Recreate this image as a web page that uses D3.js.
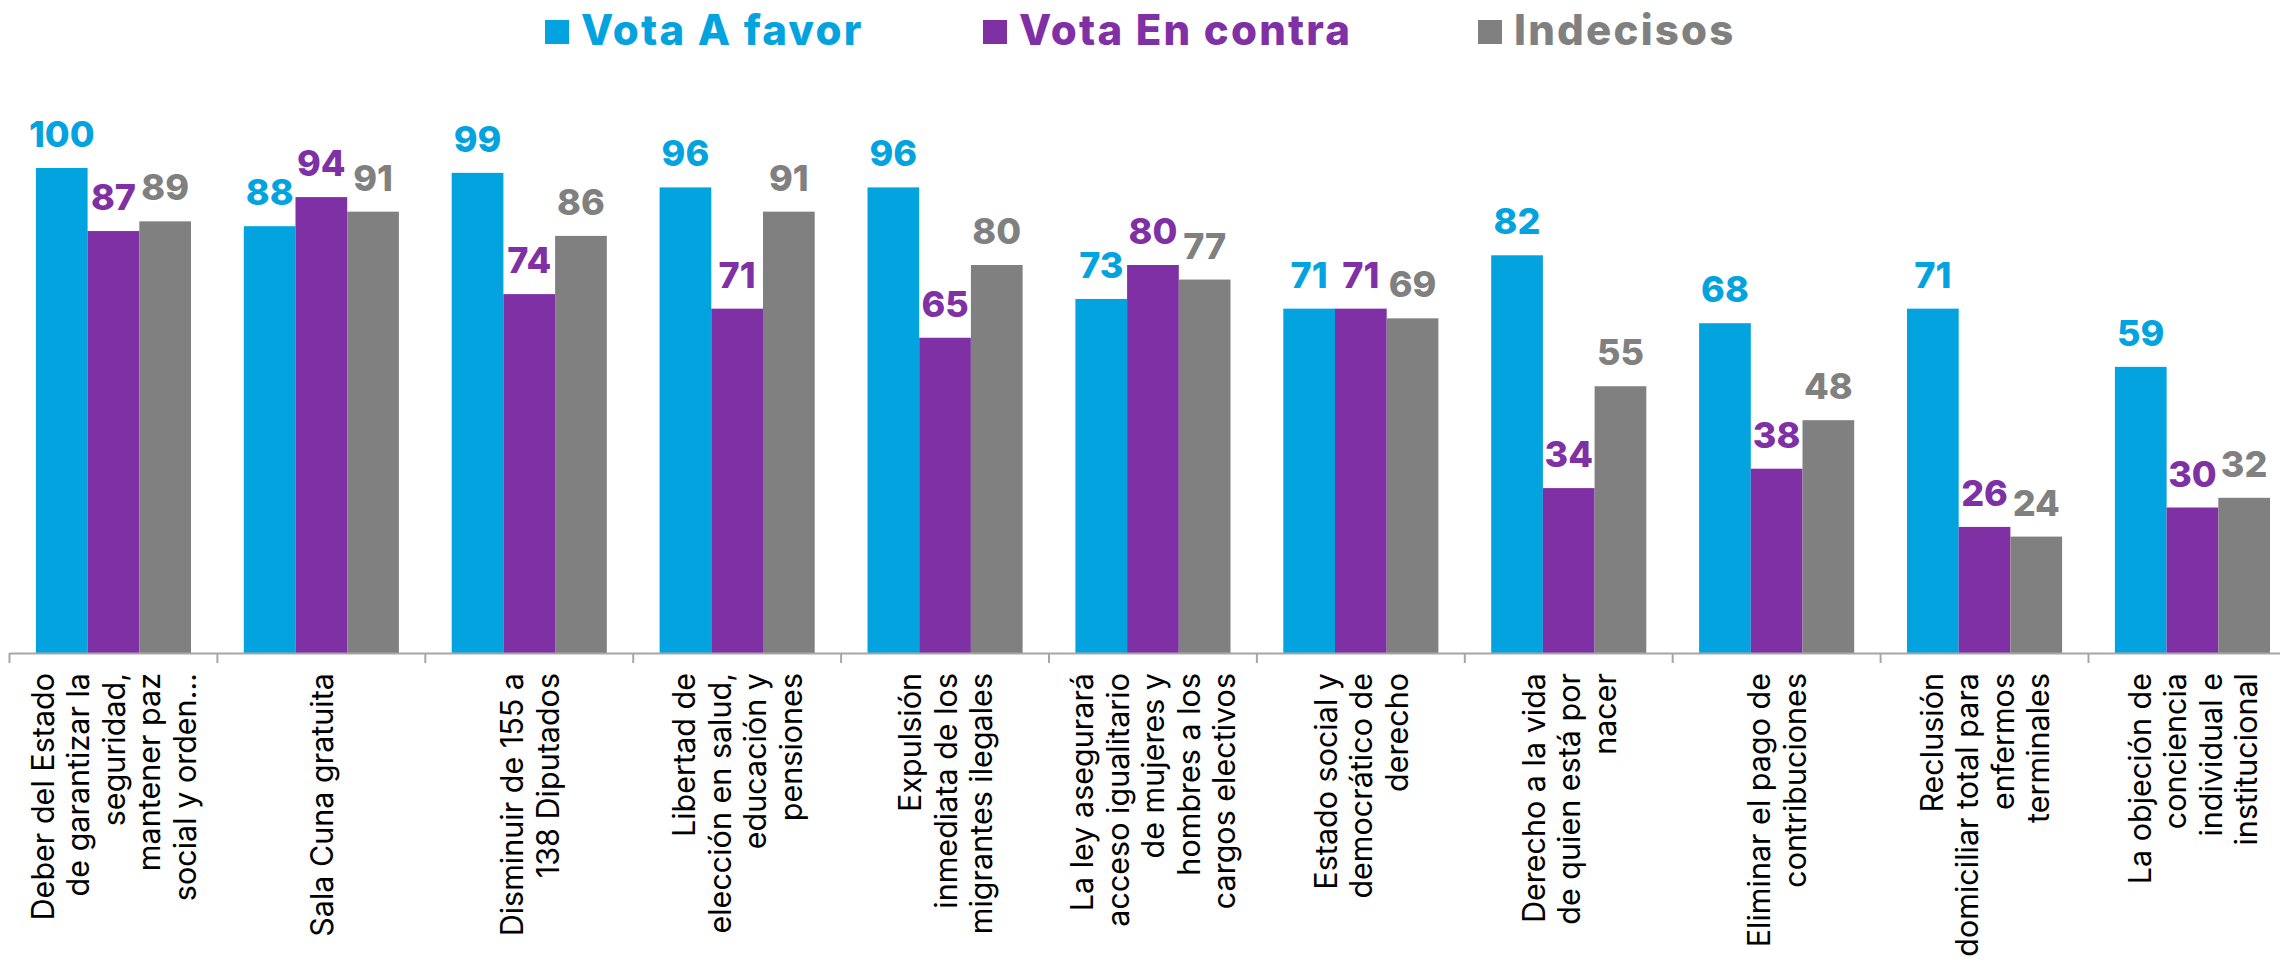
<!DOCTYPE html>
<html>
<head>
<meta charset="utf-8">
<script src="https://cdn.jsdelivr.net/npm/d3@7"></script>
<style>
  html, body { margin: 0; padding: 0; background: #fff; }
  svg { display: block; }
</style>
</head>
<body>
<svg id="chart"></svg>
<script>
  // ---------- data ----------
  const categories = [
    ['Deber del Estado', 'de garantizar la', 'seguridad,', 'mantener paz', 'social y orden…'],
    ['Sala Cuna gratuita'],
    ['Disminuir de 155 a', '138 Diputados'],
    ['Libertad de', 'elección en salud,', 'educación y', 'pensiones'],
    ['Expulsión', 'inmediata de los', 'migrantes ilegales'],
    ['La ley asegurará', 'acceso igualitario', 'de mujeres y', 'hombres a los', 'cargos electivos'],
    ['Estado social y', 'democrático de', 'derecho'],
    ['Derecho a la vida', 'de quien está por', 'nacer'],
    ['Eliminar el pago de', 'contribuciones'],
    ['Reclusión', 'domiciliar total para', 'enfermos', 'terminales'],
    ['La objeción de', 'conciencia', 'individual e', 'institucional']
  ];

  const seriesNames = ['Vota A favor', 'Vota En contra', 'Indecisos'];
  const seriesColors = ['#03A3E0', '#7F30A4', '#808080'];

  const aFavor   = [100, 88, 99, 96, 96, 73, 71, 82, 68, 71, 59];
  const enContra = [87, 94, 74, 71, 65, 80, 71, 34, 38, 26, 30];
  const indecisos = [89, 91, 86, 91, 80, 77, 69, 55, 48, 24, 32];

  const seriesValues = [aFavor, enContra, indecisos];

  // ---------- layout ----------
  const W = 2280, H = 968;
  const baseY = 653;
  const svg = d3.select('#chart').attr('width', W).attr('height', H);

  const keys = categories.map((c, i) => i);
  const x0 = d3.scaleBand().domain(keys).range([9.5, 9.5 + 11 * 207.9]).padding(0);
  const x1 = d3.scaleBand().domain(seriesNames)
    .range([26.4, x0.bandwidth() - 26.4]).padding(0);
  const y = d3.scaleLinear().domain([0, 100]).range([baseY, 168]);

  // ---------- bars ----------
  const groups = svg.append('g').selectAll('g')
    .data(keys)
    .join('g')
    .attr('transform', (d) => `translate(${x0(d)},0)`);

  groups.selectAll('rect')
    .data((d) => seriesNames.map((s, j) => ({ s, j, v: seriesValues[j][d] })))
    .join('rect')
    .attr('x', (d) => x1(d.s))
    .attr('y', (d) => y(d.v))
    .attr('width', x1.bandwidth())
    .attr('height', (d) => baseY - y(d.v))
    .attr('fill', (d) => seriesColors[d.j]);

  groups.selectAll('text.val')
    .data((d) => seriesNames.map((s, j) => ({ s, j, v: seriesValues[j][d] })))
    .join('text')
    .attr('class', 'val')
    .attr('x', (d) => x1(d.s) + x1.bandwidth() / 2)
    .attr('y', (d) => y(d.v) - 21)
    .attr('text-anchor', 'middle')
    .attr('fill', (d) => seriesColors[d.j])
    .attr('font-family', 'Inter, "Open Sans", sans-serif')
    .attr('font-weight', 800)
    .attr('font-size', 36)
    .text((d) => d.v);

  // ---------- axis ----------
  const axisG = svg.append('g');
  axisG.append('line')
    .attr('x1', x0.range()[0]).attr('x2', x0.range()[1])
    .attr('y1', baseY + 0.5).attr('y2', baseY + 0.5)
    .attr('stroke', '#a6a6a6')
    .attr('stroke-width', 2);

  const tickXs = keys.map((k) => x0(k)).concat([x0.range()[1]]);
  axisG.selectAll('line.tick')
    .data(tickXs)
    .join('line')
    .attr('class', 'tick')
    .attr('x1', (d) => d).attr('x2', (d) => d)
    .attr('y1', baseY).attr('y2', baseY + 10)
    .attr('stroke', '#a6a6a6')
    .attr('stroke-width', 2);

  // category labels, rotated, end-aligned near the axis
  const lineH = 35.5;
  const labels = svg.append('g').selectAll('text')
    .data(keys)
    .join('text')
    .attr('transform', (d) => `translate(${x0(d) + x0.bandwidth() / 2},673) rotate(-90)`)
    .attr('text-anchor', 'end')
    .attr('fill', '#000')
    .attr('font-family', 'Inter, "Open Sans", sans-serif')
    .attr('font-size', 30.5);

  labels.selectAll('tspan')
    .data((d) => categories[d].map((line, i) => ({ line, i, n: categories[d].length })))
    .join('tspan')
    .attr('x', 0)
    .attr('y', (d) => (d.i - (d.n - 1) / 2) * lineH)
    .attr('dominant-baseline', 'central')
    .text((d) => d.line);

  // ---------- legend ----------
  const legendX = [545, 983, 1478];
  const legend = svg.append('g').selectAll('g')
    .data(seriesNames)
    .join('g')
    .attr('transform', (d, i) => `translate(${legendX[i]},0)`);

  legend.append('rect')
    .attr('x', 0).attr('y', 20)
    .attr('width', 24).attr('height', 24)
    .attr('fill', (d, i) => seriesColors[i]);

  legend.append('text')
    .attr('x', 36).attr('y', 45)
    .attr('fill', (d, i) => seriesColors[i])
    .attr('font-family', 'Inter, "Open Sans", sans-serif')
    .attr('font-weight', 800)
    .attr('font-size', 42)
    .attr('letter-spacing', 2.2)
    .text((d) => d);
</script>
</body>
</html>
